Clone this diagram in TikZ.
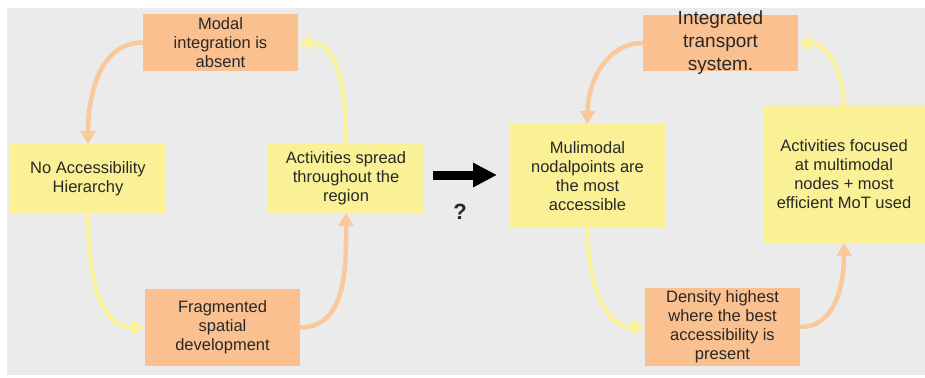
\documentclass[tikz,border=0pt]{standalone}
\usepackage{fontspec}
\setmainfont{Liberation Sans}
\usetikzlibrary{arrows.meta}
\definecolor{boxorange}{RGB}{250,192,144}
\definecolor{boxyellow}{RGB}{250,240,150}
\definecolor{floworange}{RGB}{249,200,155}
\definecolor{flowyellow}{RGB}{251,243,160}
\definecolor{panelgrey}{RGB}{235,235,235}
\definecolor{inkgrey}{RGB}{40,40,40}
\tikzset{
	cyclebox/.style={align=center, inner sep=0pt, text=inkgrey, font=\fontsize{16.5}{19}\selectfont},
	orangebox/.style={cyclebox, fill=boxorange},
	yellowbox/.style={cyclebox, fill=boxyellow},
	orangeflow/.style={draw=floworange, line width=4.5pt, -{Triangle[length=13pt,width=15pt]}},
	yellowflow/.style={draw=flowyellow, line width=4.5pt, -{Triangle[length=13pt,width=15pt]}}
}

\begin{document}
\begin{tikzpicture}[x=1pt,y=-1pt]
		\useasboundingbox (0,0) rectangle (925,377);
		\fill[panelgrey] (7,8) rectangle (925,375);

		% present situation
		\node[orangebox, minimum width=155, minimum height=57] (modal) at (220.5,42.5) {Modal\\integration is\\absent};
		\node[yellowbox, minimum width=156, minimum height=69] (noacc) at (88,178.5) {No Accessibility\\Hierarchy};
		\node[yellowbox, minimum width=156, minimum height=69] (spread) at (346,178.5) {Activities spread\\throughout the\\region};
		\node[orangebox, minimum width=155, minimum height=77] (frag) at (222.5,327.5) {Fragmented\\spatial\\development};

		\draw[orangeflow] (modal.west) to[out=180,in=90] (noacc.north);
		\draw[yellowflow] (noacc.south) to[out=-90,in=180] (frag.west);
		\draw[orangeflow] (frag.east) to[out=0,in=-90] (spread.south);
		\draw[yellowflow] (spread.north) to[out=90,in=0] (modal.east);

		% change
		\coordinate (shift start) at (433,175);
		\coordinate (shift end) at (497,175);
		\draw[line width=9pt, -{Triangle[length=24pt,width=23pt]}] (shift start) -- (shift end);
		\node[font=\fontsize{22}{26}\selectfont\bfseries, text=inkgrey] (question) at (460,212) {?};

		% desired situation
		\node[orangebox, minimum width=155, minimum height=56,
			label={[cyclebox, font=\fontsize{19}{23}\selectfont]center:Integrated\\transport\\system.}] (integ) at (720.5,43) {};
		\node[yellowbox, minimum width=155, minimum height=104] (multi) at (587.5,176) {Mulimodal\\nodalpoints are\\the most\\accessible};
		\node[yellowbox, minimum width=162, minimum height=138] (focus) at (844,174) {Activities focused\\at multimodal\\nodes + most\\efficient MoT used};
		\node[orangebox, minimum width=155, minimum height=78] (dens) at (722.5,327) {Density highest\\where the best\\accessibility is\\present};

		\draw[orangeflow] (integ.west) to[out=180,in=90] (multi.north);
		\draw[yellowflow] (multi.south) to[out=-90,in=180] (dens.west);
		\draw[orangeflow] (dens.east) to[out=0,in=-90] (focus.south);
		\draw[yellowflow] (focus.north) to[out=90,in=0] (integ.east);

	\end{tikzpicture}
\end{document}
